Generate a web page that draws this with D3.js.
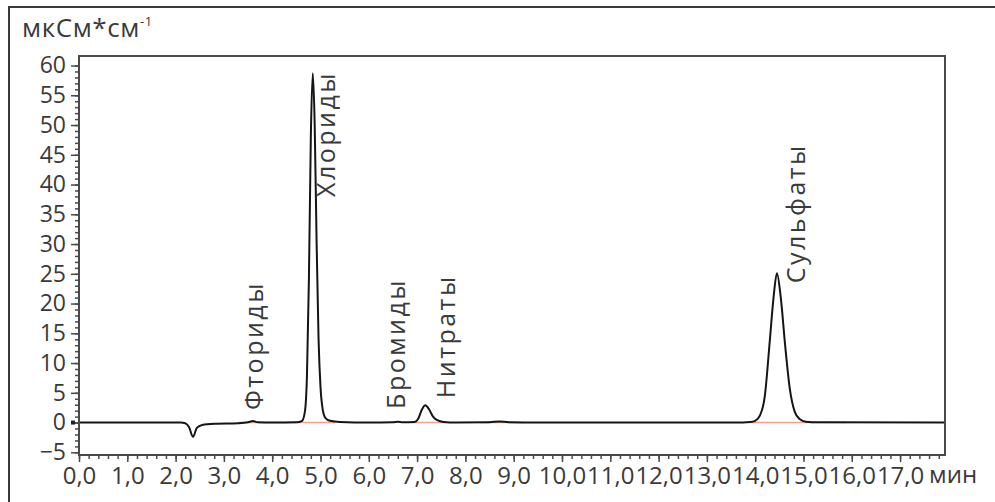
<!DOCTYPE html>
<html>
<head>
<meta charset="utf-8">
<script src="https://cdn.jsdelivr.net/npm/d3@7/dist/d3.min.js"></script>
<style>
  html, body { margin: 0; padding: 0; background: #fff; }
  svg { display: block; }
  text { font-family: "Open Sans", "Noto Sans", sans-serif; fill: #3a3a3a; }
</style>
</head>
<body>
<svg id="chart" width="995" height="502"></svg>
<script>
// Ion chromatogram: conductivity (µS/cm) against retention time (min)
const times = [
  0.0, 1.0, 2.1, 2.2, 2.28, 2.36, 2.44, 2.55, 2.8, 3.3,
  3.5, 3.6, 3.7, 4.0, 4.5, 4.62, 4.68, 4.72, 4.76, 4.80,
  4.84, 4.88, 4.92, 4.96, 5.0, 5.05, 5.1, 5.2, 5.4, 6.0,
  6.5, 6.6, 6.7, 6.95, 7.02, 7.1, 7.17, 7.25, 7.33, 7.42,
  7.55, 7.8, 8.5, 8.7, 8.9, 9.5, 13.6, 13.9, 14.0, 14.1,
  14.2, 14.3, 14.38, 14.45, 14.53, 14.62, 14.72, 14.82, 14.92, 15.05,
  15.3, 17.93
];
const signal = [
  0.0, 0.0, 0.0, -0.1, -0.8, -2.4, -0.9, -0.4, -0.2, -0.1,
  0.05, 0.25, 0.05, 0.0, 0.05, 0.3, 2.0, 8.0, 24.0, 48.0,
  58.7, 50.0, 30.0, 14.0, 6.0, 2.0, 0.8, 0.3, 0.1, 0.0,
  0.05, 0.15, 0.05, 0.1, 0.6, 2.2, 2.9, 2.2, 1.0, 0.4,
  0.1, 0.0, 0.05, 0.2, 0.05, 0.0, 0.0, 0.1, 0.3, 1.2,
  4.5, 13.5, 21.0, 25.1, 21.0, 13.0, 5.5, 1.8, 0.6, 0.15,
  0.05, 0.0
];

// Integration baselines (start, end in minutes)
const baselineStarts = [3.3, 4.62, 6.9, 8.3, 13.9];
const baselineEnds   = [4.62, 5.3, 7.6, 9.2, 15.9];

// Peak names and where their labels sit (time, signal level at text start)
const peakNames  = ["Фториды", "Хлориды", "Бромиды", "Нитраты", "Сульфаты"];
const peakLabelT = [3.81, 5.30, 6.75, 7.78, 15.03];
const peakLabelV = [2.1, 37.9, 2.3, 4.1, 23.4];

// Axis ticks and labels
const xMajorTicks = d3.range(0, 18, 1);
const xTickLabels = ["0,0","1,0","2,0","3,0","4,0","5,0","6,0","7,0","8,0",
                     "9,0","10,0","11,0","12,0","13,0","14,0","15,0","16,0","17,0"];
const xMinorTicks = d3.range(0, 17.9, 0.2);
const yMajorTicks = [-5, 0, 5, 10, 15, 20, 25, 30, 35, 40, 45, 50, 55, 60];
const yMinorTicks = d3.range(-5, 61, 1);
const yTitle = "мкСм*см";
const yTitleSup = "-1";
const xUnit = "мин";

const svg = d3.select("#chart");
const plotL = 79, plotR = 945, plotT = 56, plotB = 455;

const x = d3.scaleLinear().domain([0, 17.93]).range([plotL, plotR]);
const y = d3.scaleLinear().domain([-5.45, 61.6]).range([plotB, plotT]);

// outer frame (top and left edges are inside the canvas)
svg.append("path")
  .attr("d", `M9,502 L9,7 L995,7`)
  .attr("fill", "none").attr("stroke", "#3a3a3a").attr("stroke-width", 2);

// y axis title
const title = svg.append("text").attr("x", 22).attr("y", 37)
  .attr("font-size", 26).attr("letter-spacing", 0.6);
title.append("tspan").text(yTitle);
title.append("tspan").attr("font-size", 13).attr("dy", -11).text(yTitleSup);

// integration baselines
baselineStarts.forEach((s, i) => {
  svg.append("line")
    .attr("x1", x(s)).attr("x2", x(baselineEnds[i]))
    .attr("y1", y(0)).attr("y2", y(0))
    .attr("stroke", "#f3a08f").attr("stroke-width", 1.6);
});

// chromatogram trace
const pts = times.map((t, i) => [t, signal[i]]);
svg.append("path")
  .datum(pts)
  .attr("fill", "none")
  .attr("stroke", "#151515")
  .attr("stroke-width", 2)
  .attr("stroke-linejoin", "round")
  .attr("d", d3.line().x(d => x(d[0])).y(d => y(d[1])).curve(d3.curveMonotoneX));

// plot frame
svg.append("rect")
  .attr("x", plotL).attr("y", plotT)
  .attr("width", plotR - plotL).attr("height", plotB - plotT)
  .attr("fill", "none").attr("stroke", "#4a4a4a").attr("stroke-width", 2);

// x axis: minor then major ticks
const xMinor = svg.append("g").attr("transform", `translate(0,${plotB})`)
  .call(d3.axisBottom(x).tickValues(xMinorTicks).tickSize(4).tickFormat(""));
const xMajor = svg.append("g").attr("transform", `translate(0,${plotB})`)
  .call(d3.axisBottom(x).tickValues(xMajorTicks).tickSize(7).tickPadding(5)
    .tickFormat((d, i) => xTickLabels[i]));
[xMinor, xMajor].forEach(g => {
  g.select(".domain").remove();
  g.selectAll("line").attr("stroke", "#4a4a4a").attr("stroke-width", 1.5);
});
xMajor.selectAll("text").attr("font-size", 24).attr("fill", "#3a3a3a")
  .attr("font-family", "'Open Sans', sans-serif");

svg.append("text").attr("x", x(17) + 29).attr("y", 483)
  .attr("font-size", 24).text(xUnit);

// y axis: minor then major ticks
const yMinor = svg.append("g").attr("transform", `translate(${plotL},0)`)
  .call(d3.axisLeft(y).tickValues(yMinorTicks).tickSize(4).tickFormat(""));
const yMajor = svg.append("g").attr("transform", `translate(${plotL},0)`)
  .call(d3.axisLeft(y).tickValues(yMajorTicks).tickSize(8).tickPadding(5)
    .tickFormat(d => d < 0 ? "\u2212" + Math.abs(d) : d));
[yMinor, yMajor].forEach(g => {
  g.select(".domain").remove();
  g.selectAll("line").attr("stroke", "#4a4a4a").attr("stroke-width", 1.5);
});
yMajor.selectAll("text").attr("font-size", 23).attr("fill", "#3a3a3a")
  .attr("font-family", "'Open Sans', sans-serif");

// small zero marker on the y axis
svg.append("rect").attr("x", plotL - 8).attr("y", y(0) - 2)
  .attr("width", 4).attr("height", 4).attr("fill", "#222");

// peak labels, rotated to read upward
peakNames.forEach((name, i) => {
  svg.append("text")
    .attr("transform", `translate(${x(peakLabelT[i])},${y(peakLabelV[i])}) rotate(-90)`)
    .attr("font-size", 25).attr("letter-spacing", 2.5)
    .text(name);
});
</script>
</body>
</html>
